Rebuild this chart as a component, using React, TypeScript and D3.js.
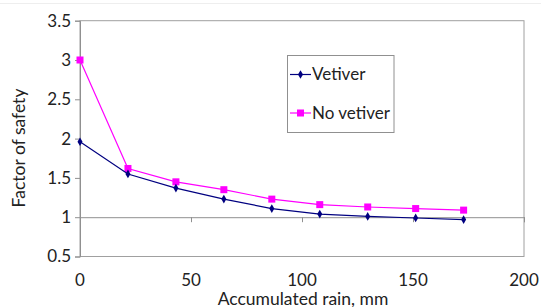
import React, { useEffect, useRef } from 'react';
import * as d3 from 'd3';

const rain = [0, 21.6, 43.2, 64.8, 86.4, 108, 129.6, 151.2, 172.8];
const vetiver = [1.96, 1.55, 1.37, 1.23, 1.11, 1.04, 1.01, 0.99, 0.97];
const noVetiver = [3.0, 1.62, 1.45, 1.35, 1.23, 1.16, 1.13, 1.11, 1.09];
const xTicks = [0, 50, 100, 150, 200];
const yTicks = [0.5, 1, 1.5, 2, 2.5, 3, 3.5];

const FONT = 'Lato, "Open Sans", sans-serif';

export default function App() {
  const ref = useRef<SVGSVGElement>(null);

  useEffect(() => {
    const svg = d3.select(ref.current);
    svg.selectAll('*').remove();

    const left = 80, right = 524, top = 20.7, bottom = 256.5;

    const x = d3.scaleLinear().domain([0, 200]).range([left, right]);
    const y = d3.scaleLinear().domain([0.5, 3.5]).range([bottom, top]);

    // faint top rule
    svg.append('line')
      .attr('x1', 0).attr('x2', 541).attr('y1', 3.5).attr('y2', 3.5)
      .attr('stroke', '#eeeeee');

    // plot area border
    svg.append('rect')
      .attr('x', left).attr('y', top)
      .attr('width', right - left).attr('height', bottom - top)
      .attr('fill', 'none').attr('stroke', '#a0a0a0').attr('stroke-width', 1);

    // y axis
    const yAxis = svg.append('g')
      .attr('transform', `translate(${left},0)`)
      .call(d3.axisLeft(y).tickValues(yTicks).tickSize(5).tickFormat(d => String(d)));
    yAxis.select('.domain').attr('stroke', '#909090');
    yAxis.selectAll('line').attr('stroke', '#909090');
    yAxis.selectAll('text')
      .attr('font-family', FONT).attr('font-size', 17).attr('fill', '#222')
      .attr('x', -9);

    // x axis line sits at y = 1
    const xAxis = svg.append('g')
      .attr('transform', `translate(0,${y(1)})`)
      .call(d3.axisBottom(x).tickValues(xTicks).tickSize(5).tickFormat(() => ''));
    xAxis.select('.domain').attr('stroke', '#909090');
    xAxis.selectAll('line').attr('stroke', '#909090');

    // x tick labels below plot
    svg.append('g').selectAll('text')
      .data(xTicks)
      .enter()
      .append('text')
      .attr('x', d => x(d))
      .attr('y', 285.5)
      .attr('text-anchor', 'middle')
      .attr('font-family', FONT).attr('font-size', 17).attr('fill', '#222')
      .text(d => d);

    // axis titles
    svg.append('text')
      .attr('x', 303).attr('y', 304.5)
      .attr('text-anchor', 'middle')
      .attr('font-family', FONT).attr('font-size', 17.5).attr('fill', '#222')
      .text('Accumulated rain, mm');

    svg.append('text')
      .attr('transform', 'translate(25,148) rotate(-90)')
      .attr('text-anchor', 'middle')
      .attr('font-family', FONT).attr('font-size', 17.5).attr('fill', '#222')
      .text('Factor of safety');

    const line = d3.line<number>()
      .x((_, i) => x(rain[i]))
      .y(d => y(d));

    // No vetiver series
    svg.append('path')
      .datum(noVetiver)
      .attr('d', line)
      .attr('fill', 'none').attr('stroke', '#ff00ff').attr('stroke-width', 1.2);
    svg.append('g').selectAll('rect')
      .data(noVetiver)
      .enter()
      .append('rect')
      .attr('x', (_, i) => x(rain[i]) - 3.5)
      .attr('y', d => y(d) - 3.5)
      .attr('width', 7).attr('height', 7)
      .attr('fill', '#ff00ff');

    // Vetiver series
    svg.append('path')
      .datum(vetiver)
      .attr('d', line)
      .attr('fill', 'none').attr('stroke', '#000080').attr('stroke-width', 1.2);
    svg.append('g').selectAll('path')
      .data(vetiver)
      .enter()
      .append('path')
      .attr('d', d3.symbol().type(d3.symbolDiamond).size(22))
      .attr('transform', (d, i) => `translate(${x(rain[i])},${y(d)})`)
      .attr('fill', '#000080');

    // legend
    const lg = svg.append('g');
    lg.append('rect')
      .attr('x', 287.5).attr('y', 55.5).attr('width', 106.5).attr('height', 77)
      .attr('fill', 'white').attr('stroke', '#909090');
    const items = [
      { label: 'Vetiver', color: '#000080', cy: 74.5 },
      { label: 'No vetiver', color: '#ff00ff', cy: 113 },
    ];
    items.forEach((it, k) => {
      lg.append('line')
        .attr('x1', 290).attr('x2', 311).attr('y1', it.cy).attr('y2', it.cy)
        .attr('stroke', it.color).attr('stroke-width', 1.2);
      if (k === 0) {
        lg.append('path')
          .attr('d', d3.symbol().type(d3.symbolDiamond).size(22))
          .attr('transform', `translate(300.5,${it.cy})`)
          .attr('fill', it.color);
      } else {
        lg.append('rect')
          .attr('x', 297).attr('y', it.cy - 3.5).attr('width', 7).attr('height', 7)
          .attr('fill', it.color);
      }
      lg.append('text')
        .attr('x', 312).attr('y', it.cy)
        .attr('dy', '0.35em')
        .attr('font-family', FONT).attr('font-size', 17).attr('fill', '#222')
        .text(it.label);
    });
  }, []);

  return (
    <svg
      ref={ref}
      width={541}
      height={307}
      style={{ position: 'absolute', left: 0, top: 0, background: 'white' }}
    />
  );
}
